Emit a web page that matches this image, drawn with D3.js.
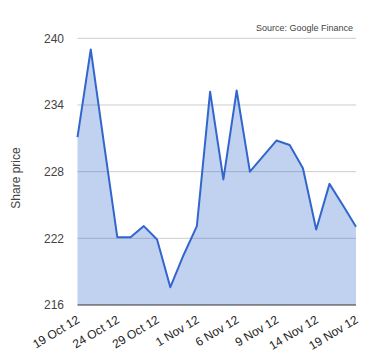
<!DOCTYPE html>
<html>
<head>
<meta charset="utf-8">
<script src="https://cdn.jsdelivr.net/npm/d3@7"></script>
<style>
  body { margin: 0; background: #fff; }
  text { font-family: "Liberation Sans", Arial, sans-serif; }
</style>
</head>
<body>
<script>
// trading days shown on the axis (every point is one day)
var days = ["19 Oct 12", "22 Oct 12", "23 Oct 12", "24 Oct 12", "25 Oct 12", "26 Oct 12",
            "29 Oct 12", "30 Oct 12", "31 Oct 12", "1 Nov 12", "2 Nov 12", "5 Nov 12",
            "6 Nov 12", "7 Nov 12", "8 Nov 12", "9 Nov 12", "12 Nov 12", "13 Nov 12",
            "14 Nov 12", "15 Nov 12", "16 Nov 12", "19 Nov 12"];
// closing prices
var prices = [231.1, 239.0, 230.5, 222.1, 222.1, 223.1, 221.9, 217.6, 220.5, 223.1, 235.2,
              227.3, 235.3, 228.0, 229.4, 230.8, 230.4, 228.3, 222.8, 226.9, 225.0, 223.05];
var yTicks = [216, 222, 228, 234, 240];
var xLabelIdx = [0, 3, 6, 9, 12, 15, 18, 21];

var W = 380, H = 360;
var margin = {top: 38.3, right: 24, bottom: 55, left: 77.5};

var svg = d3.select("body").append("svg")
    .attr("width", W)
    .attr("height", H);

var x = d3.scaleLinear()
    .domain([0, days.length - 1])
    .range([margin.left, W - margin.right]);

var y = d3.scaleLinear()
    .domain([216, 240])
    .range([H - margin.bottom, margin.top]);

// gridlines
svg.append("g").selectAll("line")
    .data(yTicks.filter(function(d) { return d != 216; }))
  .enter().append("line")
    .attr("x1", margin.left)
    .attr("x2", W - margin.right)
    .attr("y1", function(d) { return y(d); })
    .attr("y2", function(d) { return y(d); })
    .attr("stroke", "#cccccc")
    .attr("stroke-width", 1);

// area + line
var area = d3.area()
    .x(function(d, i) { return x(i); })
    .y0(y(216))
    .y1(function(d) { return y(d); });

var line = d3.line()
    .x(function(d, i) { return x(i); })
    .y(function(d) { return y(d); });

svg.append("path")
    .datum(prices)
    .attr("d", area)
    .attr("fill", "#3366cc")
    .attr("fill-opacity", 0.3);

svg.append("path")
    .datum(prices)
    .attr("d", line)
    .attr("fill", "none")
    .attr("stroke", "#3366cc")
    .attr("stroke-width", 2)
    .attr("stroke-linejoin", "round");

// baseline
svg.append("line")
    .attr("x1", margin.left)
    .attr("x2", W - margin.right)
    .attr("y1", y(216))
    .attr("y2", y(216))
    .attr("stroke", "#333")
    .attr("stroke-width", 1);

// y tick labels
svg.append("g").selectAll("text")
    .data(yTicks)
  .enter().append("text")
    .attr("x", 64)
    .attr("y", function(d) { return y(d); })
    .attr("dy", "0.36em")
    .attr("text-anchor", "end")
    .attr("font-size", 12)
    .attr("fill", "#444")
    .text(function(d) { return d; });

// x tick labels, rotated
svg.append("g").selectAll("text")
    .data(xLabelIdx)
  .enter().append("text")
    .attr("transform", function(i) { return "translate(" + (x(i) + 3) + "," + 322 + ") rotate(-31)"; })
    .attr("text-anchor", "end")
    .attr("font-size", 12)
    .attr("fill", "#222")
    .text(function(i) { return days[i]; });

// axis title
svg.append("text")
    .attr("transform", "translate(20,178) rotate(-90)")
    .attr("text-anchor", "middle")
    .attr("font-size", 12)
    .attr("fill", "#444")
    .text("Share price");

// source note
svg.append("text")
    .attr("x", 353)
    .attr("y", 30.5)
    .attr("text-anchor", "end")
    .attr("font-size", 9)
    .attr("fill", "#444")
    .text("Source: Google Finance");
</script>
</body>
</html>
